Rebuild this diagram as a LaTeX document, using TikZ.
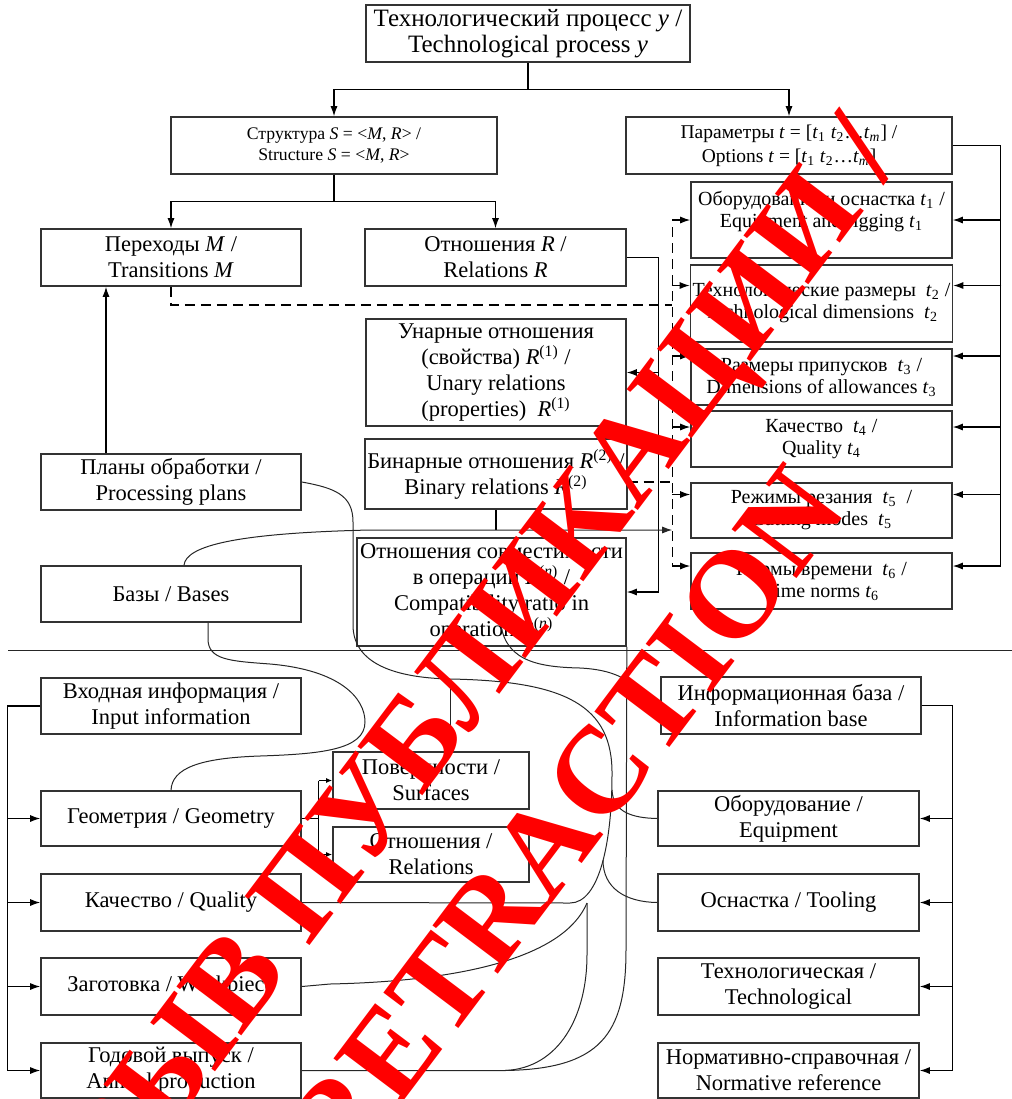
\documentclass[tikz,border=0pt]{standalone}
\usepackage{fontspec}
\setmainfont{Liberation Serif}
\usetikzlibrary{arrows.meta, positioning, calc}

\newcommand{\fs}[2]{\fontsize{#1}{#2}\selectfont}
\newcommand{\tsub}[1]{\textit{t}\textsubscript{#1}}
\newcommand{\rsup}[1]{\textit{R}\textsuperscript{(#1)}}

\tikzset{
  box/.style={draw=black!80, line width=0.8pt, align=center, inner sep=1pt, font=\fs{11.25}{13}},
  tbox/.style={box, minimum width=130.5pt, font=\fs{10}{11}},
  lbox/.style={box, minimum width=130pt},
  arr/.style={-{Latex[length=5pt,width=3.5pt]}},
  sarr/.style={-{Latex[length=3pt,width=2.5pt]}},
  dline/.style={dash pattern=on 5pt off 3pt},
  link/.style={line width=0.5pt, black!85},
  wmark/.style={text=red, font=\fs{62}{84}\bfseries, align=center, rotate=53, inner sep=0pt},
}

\begin{document}
\begin{tikzpicture}[x=0.5pt, y=-0.5pt, line width=0.6pt]
\useasboundingbox (0,0) rectangle (1012,1099);

% upper part
\node[box, minimum width=162pt, minimum height=28.5pt, font=\fs{12.5}{13}] (top) at (528,33.5)
  {Технологический процесс \textit{y} /\\ Technological process \textit{y}};
\node[box, minimum width=163pt, minimum height=28.5pt, font=\fs{8.85}{10.5}] (struct) at (334,145.5)
  {Структура \textit{S} = <\textit{M}, \textit{R}> /\\ Structure \textit{S} = <\textit{M}, \textit{R}>};
\node[box, minimum width=163pt, minimum height=28.5pt, font=\fs{9.75}{12}] (params) at (789,145.5)
  {Параметры \textit{t} = [\tsub{1} \tsub{2}…\tsub{\textit{m}}] /\\ Options \textit{t} = [\tsub{1} \tsub{2}…\tsub{\textit{m}}]};
\node[lbox, minimum height=28.5pt] (trans) at (171,257.5) {Переходы \textit{M} /\\ Transitions \textit{M}};
\node[box, minimum width=130.5pt, minimum height=28.5pt] (rel) at (495.5,257.5) {Отношения \textit{R} /\\ Relations \textit{R}};

\node[tbox, minimum height=38pt] (t1) at (821.5,220)
  {Оборудование и оснастка \tsub{1} /\\ Equipment and rigging \tsub{1}\\ \mbox{}};
\node[tbox, minimum height=38.5pt] (t2) at (821.5,303.5)
  {Технологические размеры~ \tsub{2} /\\ Technological dimensions~ \tsub{2}};
\node[tbox, minimum height=28pt] (t3) at (821.5,377)
  {Размеры припусков~ \tsub{3} /\\ Dimensions of allowances \tsub{3}};
\node[tbox, minimum height=28pt] (t4) at (821.5,439) {Качество~ \tsub{4} /\\ Quality \tsub{4}};
\node[tbox, minimum height=27.5pt] (t5) at (821.5,510.5) {Режимы резания~ \tsub{5} ~/\\ Cutting modes~ \tsub{5}};
\node[tbox, minimum height=28pt] (t6) at (821.5,581) {Нормы времени~ \tsub{6} /\\ Time norms \tsub{6}};

\node[lbox, minimum height=53.5pt] (unary) at (496,372.5)
  {Унарные отношения\\ (свойства) \rsup{1} /\\ Unary relations\\ (properties)~ \rsup{1}};
\node[lbox, minimum height=35pt] (binary) at (496,474)
  {Бинарные отношения \rsup{2} /\\ Binary relations \rsup{2}};
\node[box, minimum width=134.5pt, minimum height=54pt] (compat) at (491.5,592)
  {Отношения совместимости\\ в операции \rsup{\textit{n}} /\\ Compatibility ratio in\\ operation \rsup{\textit{n}}};
\node[lbox, minimum height=28pt] (plans) at (171,482) {Планы обработки /\\ Processing plans};
\node[lbox, minimum height=28pt] (bases) at (171,594) {Базы / Bases};

\draw (top.south) -- ++(0,27) coordinate (tj);
\draw[arr] (tj) -| (struct.north);
\draw[arr] (tj) -| (params.north);
\draw (struct.south) -- ++(0,27) coordinate (sj);
\draw[arr] (sj) -| (trans.north);
\draw[arr] (sj) -| (rel.north);
\draw[arr] ([xshift=-32.5pt]plans.north) -- ([xshift=-32.5pt]trans.south);

% parameters
\draw[dline, {Latex[length=5pt,width=3.5pt]}-{Latex[length=5pt,width=3.5pt]}]
  (t1.west) -- ++(-18,0) coordinate (dv) |- ([yshift=7.5pt]t6.west);
\foreach \n/\s in {t2/9, t3/10.5, t4/6, t5/8}
  \draw[dline, arr] ([yshift=\s pt]\n.west) ++(-18,0) -- ([yshift=\s pt]\n.west);
\draw[dline] (trans.south) |- (dv |- 0,305);
\draw[dline] ([yshift=-4pt]binary.east) -- (dv |- 0,482);
\draw (params.east) -- ++(48,0) coordinate (pv) -- (pv |- 0,566);
\foreach \n/\s in {t1/0, t2/9, t3/10.5, t4/6, t5/8, t6/7.5}
  \draw[arr] ([yshift=\s pt]\n.east) ++(48,0) -- ([yshift=\s pt]\n.east);
\draw (rel.east) -- ++(32,0) coordinate (rv);
\draw[arr] (rv) |- (compat.east);
\draw[arr] (rv |- unary.east) -- (unary.east);
\draw (binary.south) -- (binary.south |- 0,530);
\draw[link, arr] ([xshift=6.5pt]bases.north) .. controls (186,545) and (240,533) .. (370,530) -- (dv |- 0,530);

\draw[link] (8,650) -- (1012,650);

% lower part
\node[lbox, minimum height=28pt] (input) at (171,706) {Входная информация /\\ Input information};
\node[lbox, minimum height=27.5pt] (geom) at (171,818.5) {Геометрия / Geometry};
\node[lbox, minimum height=28.5pt] (qual) at (171,902.5) {Качество / Quality};
\node[lbox, minimum height=28.5pt] (work) at (171,986.5) {Заготовка / Workpiece};
\node[lbox, minimum height=27.5pt] (annual) at (171,1070.5) {Годовой выпуск /\\ Annual production};
\node[box, minimum width=98pt, minimum height=28.5pt] (surf) at (431,780.5) {Поверхности /\\ Surfaces};
\node[box, minimum width=98pt, minimum height=27.5pt] (rel2) at (431,854.5) {Отношения /\\ Relations};
\node[lbox, minimum height=28.5pt] (info) at (791,705.5) {Информационная база /\\ Information base};
\node[box, minimum width=130.5pt, minimum height=27.5pt] (equip) at (788.5,818.5) {Оборудование /\\ Equipment};
\node[box, minimum width=130.5pt, minimum height=28.5pt] (tool) at (788.5,902.5) {Оснастка / Tooling};
\node[box, minimum width=130.5pt, minimum height=28.5pt] (techn) at (788.5,986.5) {Технологическая /\\ Technological};
\node[box, minimum width=130.5pt, minimum height=27.5pt] (norm) at (788.5,1070.5) {Нормативно-справочная /\\ Normative reference};

\draw (input.west) -- ++(-33,0) coordinate (lb) -- (lb |- annual.west);
\foreach \n in {geom, qual, work, annual}
  \draw[arr] (lb |- \n.west) -- (\n.west);
\draw (info.east) -- ++(31,0) coordinate (rb) -- (rb |- norm.east);
\foreach \n in {equip, tool, techn, norm}
  \draw[arr] (rb |- \n.east) -- (\n.east);
\draw (geom.east) -- ++(17,0) coordinate (gj);
\draw[sarr] (gj |- surf.west) -- (surf.west);
\draw[sarr] (gj |- surf.west) -- (gj |- rel2.west) -- (rel2.west);

% curves
\draw[link] (plans.east) .. controls (335,488) and (353,495) .. (353,522) -- (353,625)
  .. controls (353,668) and (405,678) .. (450,679) coordinate (aj)
  .. controls (565,681) and (613,705) .. (612,775)
  .. controls (612,840) and (600,903) .. (570,903) -- (qual.east);
\draw[link] (aj) -- (aj |- surf.north);
\draw[link] (annual.east) -- (505,1070.5) .. controls (560,1068) and (587,1015) .. (587,955) -- (587,903);
\draw[link] (compat.south east) -- (626,950) .. controls (626,1035) and (600,1069) .. (505,1070.5);
\draw[link] (work.east) -- (330,984) .. controls (470,981) and (565,955) .. (587,903);
\coordinate (dstart) at (500,618);
\coordinate (dend) at (626,680);
\draw[link] (dstart) .. controls (503,660) and (535,667) .. (580,668) .. controls (600,669) and (615,673) .. (dend);
\draw[link] ([xshift=18.5pt]bases.south) -- ++(0,16) .. controls (208,660) and (230,661) .. (270,664)
  .. controls (340,670) and (365,698) .. (365,722) .. controls (365,750) and (320,754) .. (260,756)
  .. controls (200,758) and (172,768) .. (geom.north);
\draw[link] (equip.west) .. controls (632,818) and (613,812) .. (612,790);
\draw[link] (tool.west) .. controls (625,902) and (603,888) .. (603,860);

% stamp
\node[wmark] (stamp) at (497,770) {ОТЗЫВ ПУБЛИКАЦИИ /\\ RETRACTION};
\end{tikzpicture}
\end{document}
